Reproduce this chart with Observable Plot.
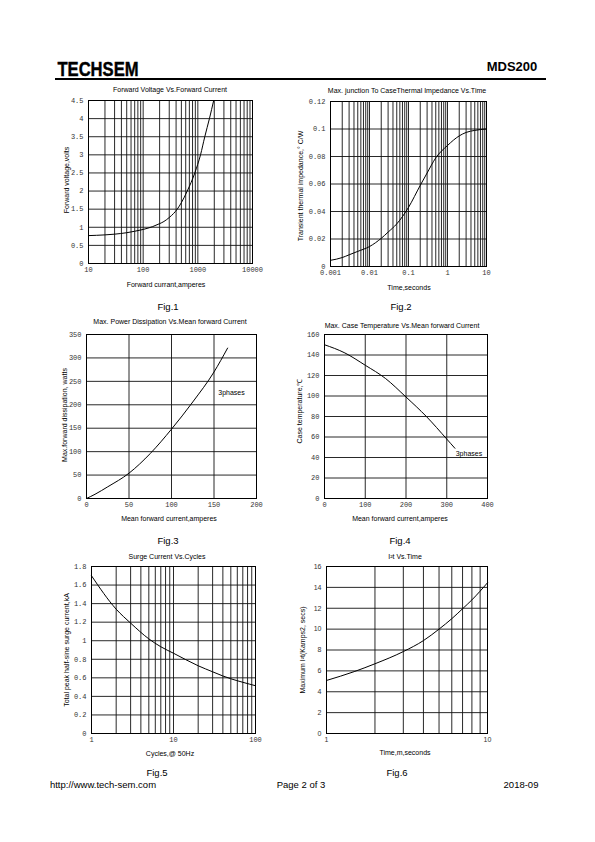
<!DOCTYPE html>
<html><head><meta charset="utf-8">
<script src="https://cdn.jsdelivr.net/npm/d3@7"></script>
<script src="https://cdn.jsdelivr.net/npm/@observablehq/plot@0.6"></script>
<style>
body{margin:0;background:#fff;}
#page{position:relative;width:595px;height:842px;overflow:hidden;font-family:"Liberation Sans",Arial,sans-serif;color:#000;}
.t{position:absolute;white-space:nowrap;transform:translate(-50%,-50%);font-size:7px;line-height:1;}
.rot{transform:translate(-50%,-50%) rotate(-90deg);}
.fig{font-size:9.5px;}
.plot{position:absolute;}
</style></head><body><div id="page"></div>
<script>
// ---------- data ----------
const fig1Current = [10,20,30,50,70,100,150,200,240,300,360,420,500,640,880,1120,1340,1630,1950];
const fig1Voltage = [0.77,0.79,0.81,0.85,0.89,0.94,1.02,1.1,1.16,1.27,1.38,1.5,1.68,2.0,2.5,3.0,3.5,4.0,4.5];
const fig1XTicks = [10,100,1000,10000];
const fig1YTicks = [0,0.5,1,1.5,2,2.5,3,3.5,4,4.5];

const fig2Time = [0.001,0.002,0.003,0.005,0.01,0.02,0.03,0.05,0.1,0.2,0.3,0.5,1,2,3,5,10];
const fig2Z = [0.0045,0.0065,0.0085,0.011,0.0145,0.0205,0.025,0.031,0.043,0.059,0.068,0.079,0.088,0.095,0.0975,0.099,0.1];
const fig2XTicks = [0.001,0.01,0.1,1,10];
const fig2YTicks = [0,0.02,0.04,0.06,0.08,0.1,0.12];

const fig3Current = [0,10,25,50,75,100,125,150,166];
const fig3Power = [0,9,25,54,96,148,206,270,321];
const fig3XTicks = [0,50,100,150,200];
const fig3YTicks = [0,50,100,150,200,250,300,350];
const fig3Note = [{x:155, y:225, text:"3phases"}];

const fig4Current = [0,50,100,150,200,250,300,320];
const fig4Temp = [150,142,130,117,99,80,58,49];
const fig4XTicks = [0,100,200,300,400];
const fig4YTicks = [0,20,40,60,80,100,120,140,160];
const fig4Note = [{x:322, y:44, text:"3phases"}];

const fig5Cycles = [1,2,3,5,7,10,20,30,40,50,70,100];
const fig5Surge = [1.7,1.34,1.19,1.02,0.935,0.865,0.73,0.665,0.62,0.59,0.552,0.515];
const fig5XTicks = [1,10,100];
const fig5YTicks = [0,0.2,0.4,0.6,0.8,1,1.2,1.4,1.6,1.8];

const fig6Time = [1,1.5,2,3,4,5,6,7,8,10];
const fig6I2t = [5.08,5.95,6.68,7.85,8.9,10.0,11.0,11.95,12.8,14.44];
const fig6XTicks = [1,10];
const fig6YTicks = [0,2,4,6,8,10,12,14,16];

function logGrid(a, b) {
  const out = [];
  for (let d = a; d < b; d *= 10) for (let k = 1; k <= 9; k++) out.push(+(d * k).toPrecision(3));
  out.push(b);
  return out;
}

const page = document.getElementById("page");
function txt(s, cx, cy, cls = "", style = "") {
  const d = document.createElement("div");
  d.className = "t " + cls;
  d.textContent = s;
  d.style.left = cx + "px"; d.style.top = cy + "px";
  if (style) d.style.cssText += style;
  page.appendChild(d);
}

function chart({frame, x, y, xGrid, yGrid, xTicks, yTicks, xs, ys, notes = [], tickFont = "Liberation Mono"}) {
  const [x0, x1, y0, y1] = frame;
  const ml = 40, mr = 14, mt = 10, mb = 20;
  const data = xs.map((v, i) => ({x: v, y: ys[i]}));
  const p = Plot.plot({
    width: (x1 - x0) + ml + mr, height: (y1 - y0) + mt + mb,
    marginLeft: ml, marginRight: mr, marginTop: mt, marginBottom: mb,
    x, y,
    style: {background: "transparent", overflow: "visible"},
    marks: [
      Plot.ruleX(xGrid, {stroke: "#111", strokeWidth: 0.9}),
      Plot.ruleY(yGrid, {stroke: "#111", strokeWidth: 0.9}),
      Plot.frame({stroke: "#000", strokeWidth: 1}),
      Plot.line(data, {x: "x", y: "y", stroke: "#000", strokeWidth: 1, curve: "monotone-x"}),
      Plot.text(notes, {x: "x", y: "y", text: "text", textAnchor: "start", fontSize: 7, fontFamily: "Liberation Sans", fill: "#000"}),
      Plot.axisX(xTicks, {tickSize: 0, tickPadding: 4, tickFormat: d => String(d), fontSize: 7, fontFamily: tickFont, fill: "#333", label: null}),
      Plot.axisY(yTicks, {tickSize: 0, tickPadding: 5, tickFormat: d => String(d), fontSize: 7, fontFamily: tickFont, fill: "#333", label: null})
    ]
  });
  p.classList.add("plot");
  p.style.left = (x0 - ml) + "px";
  p.style.top = (y0 - mt) + "px";
  page.appendChild(p);
}

// ---------- header ----------
txt("TECHSEM", 97.5, 69, "", "font-family:'Liberation Sans',Arial,sans-serif;font-weight:bold;font-size:20px;transform:translate(-50%,-50%) scaleX(0.83);-webkit-text-stroke:0.4px #000;");
txt("MDS200", 512, 66, "", "font-weight:bold;font-size:13px;");
const hr = document.createElement("div");
hr.style.cssText = "position:absolute;left:55px;top:78px;width:491px;height:1.5px;background:#000;";
page.appendChild(hr);

// ---------- Fig 1 ----------
chart({frame: [88, 252, 100, 263],
  x: {type: "log", domain: [10, 10000]}, y: {domain: [0, 4.5]},
  xGrid: logGrid(10, 10000), yGrid: fig1YTicks, xTicks: fig1XTicks, yTicks: fig1YTicks,
  xs: fig1Current, ys: fig1Voltage});
txt("Forward  Voltage Vs.Forward Current", 170, 89);
txt("Forward  currant,amperes", 166, 284);
txt("Forward voltage,volts", 66, 180, "rot");
txt("Fig.1", 168, 307, "fig");

// ---------- Fig 2 ----------
chart({frame: [330, 486, 101, 266],
  x: {type: "log", domain: [0.001, 10]}, y: {domain: [0, 0.12]},
  xGrid: logGrid(0.001, 10), yGrid: fig2YTicks, xTicks: fig2XTicks, yTicks: fig2YTicks,
  xs: fig2Time, ys: fig2Z});
txt("Max. junction To CaseThermal  Impedance  Vs.Time", 407, 90);
txt("Time,seconds", 409, 287);
txt("Transient  thermal  impedance,° C/W", 300, 186, "rot");
txt("Fig.2", 401, 307, "fig");

// ---------- Fig 3 ----------
chart({frame: [86, 256, 334, 498],
  x: {domain: [0, 200]}, y: {domain: [0, 350]},
  xGrid: fig3XTicks, yGrid: fig3YTicks, xTicks: fig3XTicks, yTicks: fig3YTicks,
  xs: fig3Current, ys: fig3Power, notes: fig3Note});
txt("Max. Power Dissipation Vs.Mean forward  Current", 170, 321);
txt("Mean forward  current,amperes", 169, 518);
txt("Max.forward  dissipation, watts", 64, 415, "rot");
txt("Fig.3", 168, 541, "fig");

// ---------- Fig 4 ----------
chart({frame: [324, 487, 334, 498],
  x: {domain: [0, 400]}, y: {domain: [0, 160]},
  xGrid: fig4XTicks, yGrid: fig4YTicks, xTicks: fig4XTicks, yTicks: fig4YTicks,
  xs: fig4Current, ys: fig4Temp, notes: fig4Note});
txt("Max. Case Temperature  Vs.Mean forward  Current", 402, 325);
txt("Mean forward  current,amperes", 400, 518);
txt("Case temperature,℃", 299, 411, "rot");
txt("Fig.4", 400, 541, "fig");

// ---------- Fig 5 ----------
chart({frame: [91, 255, 566, 733],
  x: {type: "log", domain: [1, 100]}, y: {domain: [0, 1.8]},
  xGrid: logGrid(1, 100), yGrid: fig5YTicks, xTicks: fig5XTicks, yTicks: fig5YTicks,
  xs: fig5Cycles, ys: fig5Surge});
txt("Surge Current  Vs.Cycles", 167, 556);
txt("Cycles,@ 50Hz", 170, 753);
txt("Total peak half-sine surge current,kA", 66, 650, "rot");
txt("Fig.5", 157, 773, "fig");

// ---------- Fig 6 ----------
chart({frame: [326, 487, 566, 733],
  x: {type: "log", domain: [1, 10]}, y: {domain: [0, 16]},
  xGrid: logGrid(1, 10), yGrid: fig6YTicks, xTicks: fig6XTicks, yTicks: fig6YTicks,
  xs: fig6Time, ys: fig6I2t, tickFont: "Liberation Sans"});
txt("I²t  Vs.Time", 405, 556);
txt("Time,m,seconds", 405, 752);
txt("Maximum I²t(Kamps2, secs)", 302, 650, "rot");
txt("Fig.6", 397, 773, "fig");

// ---------- footer ----------
txt("http://www.tech-sem.com", 103, 785, "fig");
txt("Page 2 of 3", 301, 785, "fig");
txt("2018-09", 521, 785, "fig");
</script>
</body></html>
